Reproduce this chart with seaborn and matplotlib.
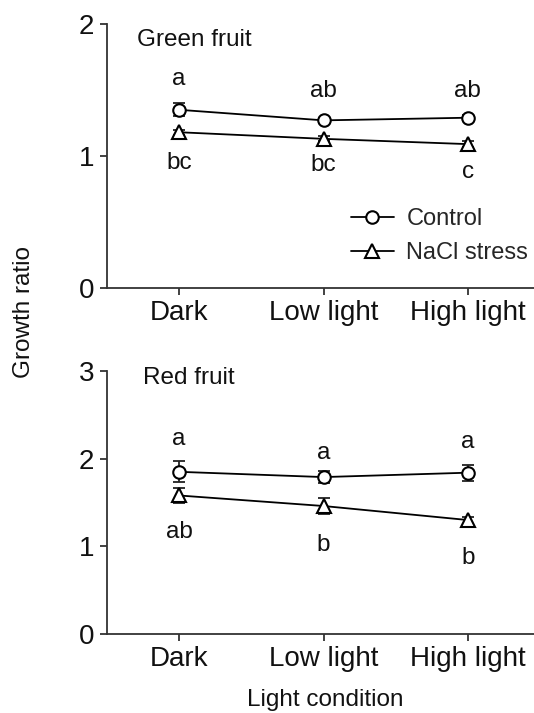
import matplotlib
matplotlib.use("Agg")
import matplotlib.pyplot as plt
import seaborn as sns
import pandas as pd
from matplotlib.lines import Line2D

sns.set_theme(style="ticks")
plt.rcParams['font.family'] = ['Liberation Sans', 'DejaVu Sans']

conditions = ["Dark", "Low light", "High light"]
treatments = ["Control", "NaCl stress"]

# Green fruit
green_control = [1.35, 1.27, 1.29]
green_control_err = [0.05, 0.02, 0.02]
green_nacl = [1.18, 1.13, 1.09]
green_nacl_err = [0.02, 0.02, 0.02]
green_control_letters = ["a", "ab", "ab"]
green_nacl_letters = ["bc", "bc", "c"]
green_control_letter_y = [1.58, 1.49, 1.49]
green_nacl_letter_y = [0.95, 0.93, 0.88]

# Red fruit
red_control = [1.85, 1.79, 1.84]
red_control_err = [0.12, 0.07, 0.09]
red_nacl = [1.58, 1.46, 1.30]
red_nacl_err = [0.09, 0.09, 0.04]
red_control_letters = ["a", "a", "a"]
red_nacl_letters = ["ab", "b", "b"]
red_control_letter_y = [2.22, 2.07, 2.19]
red_nacl_letter_y = [1.16, 1.02, 0.87]

FS = 17.5
TFS = 20
W, H = 534, 713
fig = plt.figure(figsize=(W / 100, H / 100), dpi=100)
ax1 = fig.add_axes([107 / W, 1 - 288 / H, 433 / W, 264 / H])
ax2 = fig.add_axes([107 / W, 1 - 634 / H, 433 / W, 263 / H])

markers = {"Control": "o", "NaCl stress": "^"}
msizes = {"Control": 9, "NaCl stress": 10.5}


def panel(ax, ctrl, ctrl_err, nacl, nacl_err, cl, nl, cly, nly, ymax):
    df = pd.DataFrame({
        "pos": list(range(3)) * 2,
        "value": ctrl + nacl,
        "err": ctrl_err + nacl_err,
        "treatment": ["Control"] * 3 + ["NaCl stress"] * 3,
    })
    for t, g in df.groupby("treatment"):
        ax.errorbar(g["pos"], g["value"], yerr=g["err"], fmt="none",
                    ecolor="#222222", elinewidth=1.3, capsize=4.5, capthick=1.3, zorder=2)
        sns.lineplot(data=g, x="pos", y="value", marker=markers[t],
                     color="black", linewidth=1.3, markersize=msizes[t],
                     markerfacecolor="white", markeredgecolor="black", markeredgewidth=1.5,
                     legend=False, ax=ax, zorder=3)
    for i in range(3):
        ax.text(i, cly[i], cl[i], ha="center", va="center", fontsize=FS, color="#111111")
        ax.text(i, nly[i], nl[i], ha="center", va="center", fontsize=FS, color="#111111")
    ax.set_xlim(-0.5, 2.5)
    ax.set_ylim(0, ymax)
    ax.set_yticks(range(ymax + 1))
    ax.set_xticks(range(3))
    ax.set_xticklabels(conditions)
    ax.set_xlabel("")
    ax.set_ylabel("")
    ax.tick_params(labelsize=TFS, length=5, width=1.3, color="#333333", pad=4,
                   labelcolor="#111111")
    for s in ["top", "right"]:
        ax.spines[s].set_visible(False)
    for s in ["left", "bottom"]:
        ax.spines[s].set_linewidth(1.3)
        ax.spines[s].set_color("#333333")


panel(ax1, green_control, green_control_err, green_nacl, green_nacl_err,
      green_control_letters, green_nacl_letters, green_control_letter_y,
      green_nacl_letter_y, 2)
panel(ax2, red_control, red_control_err, red_nacl, red_nacl_err,
      red_control_letters, red_nacl_letters, red_control_letter_y,
      red_nacl_letter_y, 3)

fig.text(137 / W, 1 - 40 / H, "Green fruit", fontsize=FS, va="center", ha="left", color="#111111")
fig.text(143 / W, 1 - 378 / H, "Red fruit", fontsize=FS, va="center", ha="left", color="#111111")
fig.text(24 / W, 1 - 312 / H, "Growth ratio", fontsize=FS, rotation=90, va="center", ha="center", color="#111111")
fig.text(325 / W, 1 - 700 / H, "Light condition", fontsize=FS, va="center", ha="center", color="#111111")

handles = [Line2D([], [], color="black", linewidth=1.3, marker=markers[t], markersize=msizes[t],
                  markerfacecolor="white", markeredgecolor="black", markeredgewidth=1.5)
           for t in treatments]
ax1.legend(handles, treatments, loc="upper left", bbox_to_anchor=(351 / W, 1 - 208 / H),
           bbox_transform=fig.transFigure, frameon=False, fontsize=17, handlelength=1.8,
           handletextpad=0.55, labelspacing=0.5, borderpad=0, borderaxespad=0)

fig.savefig("out.png", dpi=100)
